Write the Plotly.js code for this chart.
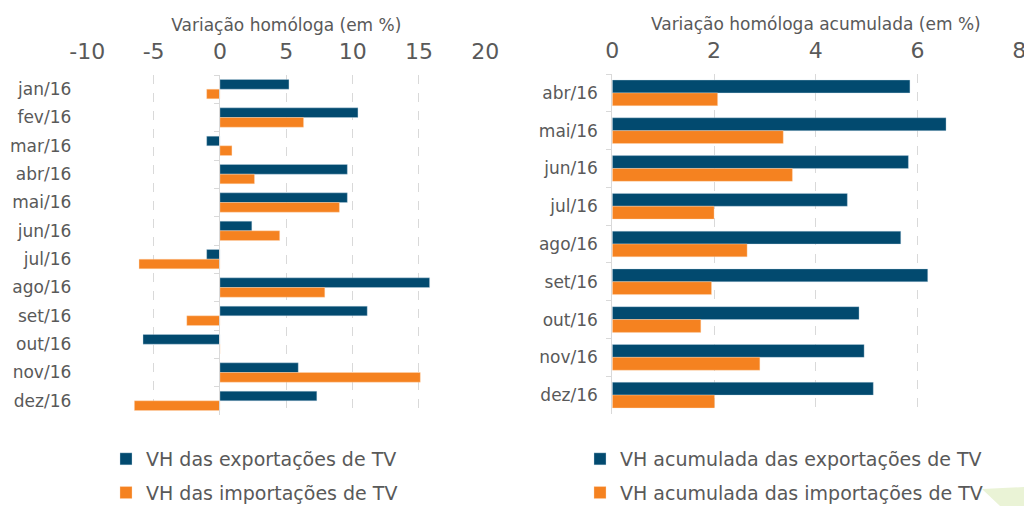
<!DOCTYPE html>
<html>
<head>
<meta charset="utf-8">
<script src="https://cdn.plot.ly/plotly-3.0.1.min.js"></script>
<style>html,body{margin:0;padding:0;background:#fff;overflow:hidden;}#chart{width:1024px;height:506px;}</style>
</head>
<body>
<div id="chart"></div>
<script>
// ---- data ----
const monthsAll = ['jan/16','fev/16','mar/16','abr/16','mai/16','jun/16','jul/16','ago/16','set/16','out/16','nov/16','dez/16'];
const vhExport = [5.2, 10.4, -1.0, 9.6, 9.6, 2.4, -1.0, 15.8, 11.1, -5.8, 5.9, 7.3];
const vhImport = [-1.0, 6.3, 0.9, 2.6, 9.0, 4.5, -6.1, 7.9, -2.5, 0, 15.1, -6.45];

const monthsAcc = ['abr/16','mai/16','jun/16','jul/16','ago/16','set/16','out/16','nov/16','dez/16'];
const accExport = [5.85, 6.56, 5.82, 4.62, 5.67, 6.2, 4.85, 4.95, 5.13];
const accImport = [2.07, 3.36, 3.54, 2.0, 2.65, 1.95, 1.74, 2.9, 2.01];

const leftTicks = [-10, -5, 0, 5, 10, 15, 20];
const rightTicks = [0, 2, 4, 6, 8];

const names = {
  vhExp: 'VH das exportações de TV',
  vhImp: 'VH das importações de TV',
  accExp: 'VH acumulada das exportações de TV',
  accImp: 'VH acumulada das importações de TV'
};
const titles = {left: 'Variação homóloga (em %)', right: 'Variação homóloga acumulada (em %)'};

// ---- style ----
const BLUE = '#024a6f', ORANGE = '#f58220', TXT = '#595959', GRID = '#d9d9d9';
const FONT = 'DejaVu Sans, Verdana, sans-serif';
const W = 1024, H = 506;
const px = v => v / W, py = v => 1 - v / H;

const traces = [
  {type:'bar', orientation:'h', y:monthsAll, x:vhExport, name:names.vhExp, marker:{color:BLUE, line:{color:'rgba(200,220,235,0.7)', width:0.5}}, xaxis:'x', yaxis:'y', legend:'legend', legendgroup:'a', hoverinfo:'x+y'},
  {type:'bar', orientation:'h', y:monthsAll, x:vhImport, name:names.vhImp, marker:{color:ORANGE, line:{color:'rgba(255,220,190,0.7)', width:0.5}}, xaxis:'x', yaxis:'y', legend:'legend', legendgroup:'b', hoverinfo:'x+y'},
  {type:'scatter', mode:'markers', y:monthsAll, x:monthsAll.map(()=>0), marker:{opacity:0}, xaxis:'x', yaxis:'y3', showlegend:false, hoverinfo:'skip'},
  {type:'bar', orientation:'h', y:monthsAcc, x:accExport, name:names.accExp, marker:{color:BLUE, line:{color:'rgba(200,220,235,0.7)', width:0.5}}, xaxis:'x2', yaxis:'y2', legend:'legend2', legendgroup:'c', hoverinfo:'x+y'},
  {type:'bar', orientation:'h', y:monthsAcc, x:accImport, name:names.accImp, marker:{color:ORANGE, line:{color:'rgba(255,220,190,0.7)', width:0.5}}, xaxis:'x2', yaxis:'y2', legend:'legend2', legendgroup:'d', hoverinfo:'x+y'}
];

const leftY = [py(415), py(75)];
const rightY = [py(414), py(74)];

const layout = {
  width: W, height: H,
  margin: {l:0, r:0, t:0, b:0, autoexpand:false},
  paper_bgcolor:'#fff', plot_bgcolor:'rgba(0,0,0,0)',
  font: {family: FONT, color: TXT},
  barmode: 'group',
  bargap: 0.32,
  showlegend: true,
  xaxis: {
    domain: [px(87.3), px(485.3)], anchor:'y', side:'top', range:[-10, 20],
    tickvals: leftTicks, ticktext: leftTicks.map(String), ticklabeloverflow:'allow',
    tickfont:{size:22, color:TXT}, ticks:'outside', ticklen:6, tickcolor:'rgba(0,0,0,0)',
    showgrid:true, gridcolor:GRID, griddash:'dash', gridwidth:1, zeroline:false, showline:false,
    automargin:false,
    title:{text:titles.left, font:{size:17, color:TXT}, standoff:3}
  },
  yaxis: {
    domain: leftY, anchor:'x', type:'category', categoryarray: monthsAll, range:[11.5, -0.5],
    tickfont:{size:17, color:TXT}, ticks:'', ticklabelstandoff:15, showgrid:false, showline:false, zeroline:false, automargin:false
  },
  yaxis3: {
    overlaying:'y', anchor:'free', position: px(219.3), type:'category', categoryarray: monthsAll, range:[11.5, -0.5],
    showticklabels:false, ticks:'outside', ticklen:5, tickcolor:GRID, tickson:'boundaries',
    showline:true, linecolor:GRID, linewidth:1, showgrid:false, zeroline:false, automargin:false
  },
  xaxis2: {
    domain: [px(612.3), px(1019.3)], anchor:'y2', side:'top', range:[0, 8],
    tickvals: rightTicks, ticktext: rightTicks.map(String), ticklabeloverflow:'allow',
    tickfont:{size:22, color:TXT}, ticks:'outside', ticklen:6, tickcolor:'rgba(0,0,0,0)',
    showgrid:true, gridcolor:GRID, griddash:'dash', gridwidth:1, zeroline:false, showline:false,
    automargin:false,
    title:{text:titles.right, font:{size:17, color:TXT}, standoff:3}
  },
  yaxis2: {
    domain: rightY, anchor:'x2', type:'category', categoryarray: monthsAcc, range:[8.5, -0.5],
    tickfont:{size:17, color:TXT}, ticks:'outside', ticklen:5, tickcolor:GRID, tickson:'boundaries', ticklabelstandoff:10,
    showline:true, linecolor:GRID, linewidth:1, showgrid:false, zeroline:false, automargin:false
  },
  legend: {
    x: px(106), y: py(440), xanchor:'left', yanchor:'top', orientation:'v',
    font:{size:19, color:TXT, family:FONT}, traceorder:'grouped', tracegroupgap:6,
    bgcolor:'rgba(0,0,0,0)', itemclick:false, itemdoubleclick:false
  },
  legend2: {
    x: px(580), y: py(440), xanchor:'left', yanchor:'top', orientation:'v',
    font:{size:19, color:TXT, family:FONT}, traceorder:'grouped', tracegroupgap:6,
    bgcolor:'rgba(0,0,0,0)', itemclick:false, itemdoubleclick:false
  },
  shapes: [
    {type:'path', xref:'paper', yref:'paper', path:`M ${px(982)} ${py(489)} L ${px(1024)} ${py(487)} L ${px(1024)} ${py(506)} L ${px(1000)} ${py(506)} Z`, fillcolor:'#eaf3d6', line:{width:0}, layer:'below'}
  ]
};

Plotly.newPlot('chart', traces, layout, {displayModeBar:false, staticPlot:true});
</script>
</body>
</html>
